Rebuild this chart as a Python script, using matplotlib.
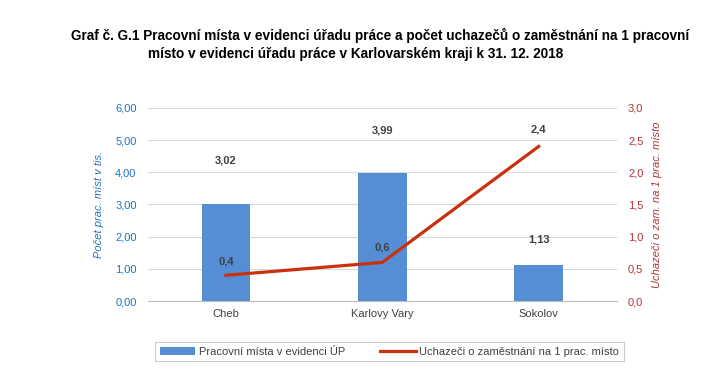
import numpy as np
import matplotlib.pyplot as plt

# data
regiony = ["Cheb", "Karlovy Vary", "Sokolov"]
mista = [3.02, 3.99, 1.13]          # pracovni mista v tis.
uchazeci = [0.4, 0.6, 2.4]          # uchazeci na 1 prac. misto
left_ticks = [0, 1, 2, 3, 4, 5, 6]
right_ticks = [0, 0.5, 1.0, 1.5, 2.0, 2.5, 3.0]

# posun popisku nad sloupci (body)
bar_lbl_off = [31, 30, 18]
line_lbl_off = [10, 11, 12]

plt.rcParams['font.family'] = ['Liberation Sans', 'DejaVu Sans']

BAR = '#558ED5'
LINE = '#C9310E'
BLUE = '#1F74C4'
RED = '#B0383A'

fig = plt.figure(figsize=(7.24, 3.85), dpi=100)
ax = fig.add_axes([0.204, 0.218, 0.648, 0.502])
ax2 = ax.twinx()

x = np.arange(len(regiony))
ax.bar(x, mista, width=0.31, color=BAR, zorder=2, label='Pracovní místa v evidenci ÚP')
for xi, v, off in zip(x, mista, bar_lbl_off):
    ax.annotate(f"{v:.2f}".replace('.', ','), (xi, v), xytext=(0, off), textcoords='offset points',
                ha='center', va='center', fontsize=8, fontweight='bold', color='#404040')

ax2.plot(x, uchazeci, color=LINE, lw=2.3, zorder=3, label='Uchazeči o zaměstnání na 1 prac. místo')
for xi, v, off in zip(x, uchazeci, line_lbl_off):
    ax2.annotate(f"{v:.1f}".replace('.', ','), (xi, v), xytext=(0, off), textcoords='offset points',
                 ha='center', va='center', fontsize=8, fontweight='bold', color='#404040')

ax.set_xlim(-0.5, 2.5)
ax.set_ylim(0, 6)
ax2.set_ylim(0, 3)
ax.set_xticks(x)
ax.set_xticklabels(regiony, fontsize=8, color='#404040')
ax.set_yticks(left_ticks)
ax.set_yticklabels([f"{t:.2f}".replace('.', ',') for t in left_ticks], fontsize=8, color=BLUE)
ax2.set_yticks(right_ticks)
ax2.set_yticklabels([f"{t:.1f}".replace('.', ',') for t in right_ticks], fontsize=8, color=RED)

ax.grid(axis='y', color='#D9D9D9', lw=0.8, zorder=0)
ax.set_axisbelow(True)
for a in (ax, ax2):
    for s in a.spines.values():
        s.set_visible(False)
    a.tick_params(length=0)
ax.spines['bottom'].set_visible(True)
ax.spines['bottom'].set_color('#BFBFBF')
ax.tick_params(axis='y', pad=8)
ax.tick_params(axis='x', pad=6)
ax2.tick_params(axis='y', pad=8)

ax.set_ylabel('Počet prac. míst v tis.', fontsize=8, style='italic', color=BLUE, labelpad=8)
ax2.set_ylabel('Uchazeči o zam. na 1 prac. místo', fontsize=8, style='italic', color=RED, labelpad=6)

fig.text(0.525, 0.895, 'Graf č. G.1 Pracovní místa v evidenci úřadu práce a počet uchazečů o zaměstnání na 1 pracovní',
         ha='center', fontsize=9.8, fontweight='bold', color='black')
fig.text(0.204, 0.85, 'místo v evidenci úřadu práce v Karlovarském kraji k 31. 12. 2018',
         ha='left', fontsize=9.8, fontweight='bold', color='black')

h1, l1 = ax.get_legend_handles_labels()
h2, l2 = ax2.get_legend_handles_labels()
leg = fig.legend(h1 + h2, l1 + l2, loc='center', bbox_to_anchor=(0.538, 0.087), ncol=2,
                 fontsize=8, frameon=True, fancybox=False, edgecolor='#BFBFBF',
                 handlelength=3.2, handletextpad=0.3, columnspacing=3.2,
                 borderpad=0.4)
leg.get_frame().set_linewidth(0.8)
for t in leg.get_texts():
    t.set_color('#404040')

fig.savefig('out.png', dpi=100)
